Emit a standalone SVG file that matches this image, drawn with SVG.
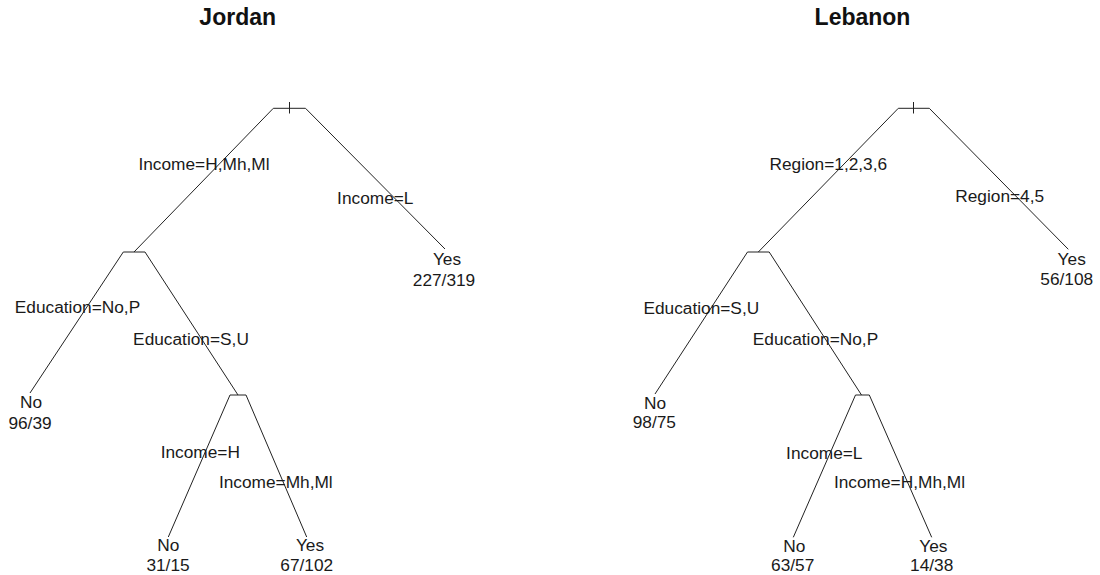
<svg xmlns="http://www.w3.org/2000/svg" width="1100" height="575" viewBox="0 0 1100 575">
<style>
.t{font-family:"Liberation Sans",Arial,sans-serif;font-size:23px;font-weight:bold;fill:#111;text-anchor:middle}
.l{font-family:"Liberation Sans",Arial,sans-serif;font-size:17.3px;fill:#1a1a1a;text-anchor:middle}
.e{stroke:#222;stroke-width:1;fill:none}
</style>
<rect width="1100" height="575" fill="#fff"/>
<text class="t" x="237.7" y="25">Jordan</text>
<text class="t" x="862.5" y="25">Lebanon</text>
<g id="connectors">
<path class="e" d="M273.3,108.3 L134,252 M305.5,108.3 L445,249 M123.3,252 L30,393 M145,252 L238,395 M230,395 L168.3,537 M246,395 L306.7,537"/>
<path class="e" d="M898.3,108.3 L758.3,252 M929.3,108.3 L1068.3,249.3 M747.5,252 L655,394 M769.2,252 L861.5,395 M855.5,395 L793.3,537.3 M869.3,395 L931.7,537.3"/>
</g>
<g id="j-root"><path class="e" d="M273.3,108.3 H305.5 M289.5,102 V113.5"/></g>
<g id="j-n2"><path class="e" d="M123.3,252 H145"/></g>
<g id="j-n3"><path class="e" d="M230,395 H246"/></g>
<g id="j-labels">
<text class="l" x="204" y="170">Income=H,Mh,Ml</text>
<text class="l" x="375.3" y="203.5">Income=L</text>
<text class="l" x="77.5" y="313">Education=No,P</text>
<text class="l" x="191" y="345">Education=S,U</text>
<text class="l" x="200.3" y="458">Income=H</text>
<text class="l" x="275.8" y="488">Income=Mh,Ml</text>
</g>
<g id="j-leaf-yes1"><text class="l" x="447" y="264.5">Yes</text><text class="l" x="444" y="285.7">227/319</text></g>
<g id="j-leaf-no1"><text class="l" x="31" y="408.2">No</text><text class="l" x="30" y="429.2">96/39</text></g>
<g id="j-leaf-no2"><text class="l" x="168.3" y="551.2">No</text><text class="l" x="168" y="571.2">31/15</text></g>
<g id="j-leaf-yes2"><text class="l" x="310" y="551.2">Yes</text><text class="l" x="306.7" y="571.2">67/102</text></g>
<g id="l-root"><path class="e" d="M898.3,108.3 H929.3 M913.5,102 V113.5"/></g>
<g id="l-n2"><path class="e" d="M747.5,252 H769.2"/></g>
<g id="l-n3"><path class="e" d="M855.5,395 H869.3"/></g>
<g id="l-labels">
<text class="l" x="828.3" y="169.5">Region=1,2,3,6</text>
<text class="l" x="999.7" y="202.2">Region=4,5</text>
<text class="l" x="701.3" y="313.5">Education=S,U</text>
<text class="l" x="815.5" y="344.5">Education=No,P</text>
<text class="l" x="824.3" y="459">Income=L</text>
<text class="l" x="899.5" y="488">Income=H,Mh,Ml</text>
</g>
<g id="l-leaf-yes1"><text class="l" x="1071.7" y="264.5">Yes</text><text class="l" x="1066.7" y="284.5">56/108</text></g>
<g id="l-leaf-no1"><text class="l" x="655" y="408.5">No</text><text class="l" x="654.3" y="428">98/75</text></g>
<g id="l-leaf-no2"><text class="l" x="794.3" y="552">No</text><text class="l" x="792.7" y="571.2">63/57</text></g>
<g id="l-leaf-yes2"><text class="l" x="933.3" y="552">Yes</text><text class="l" x="931.7" y="571.2">14/38</text></g>
</svg>
